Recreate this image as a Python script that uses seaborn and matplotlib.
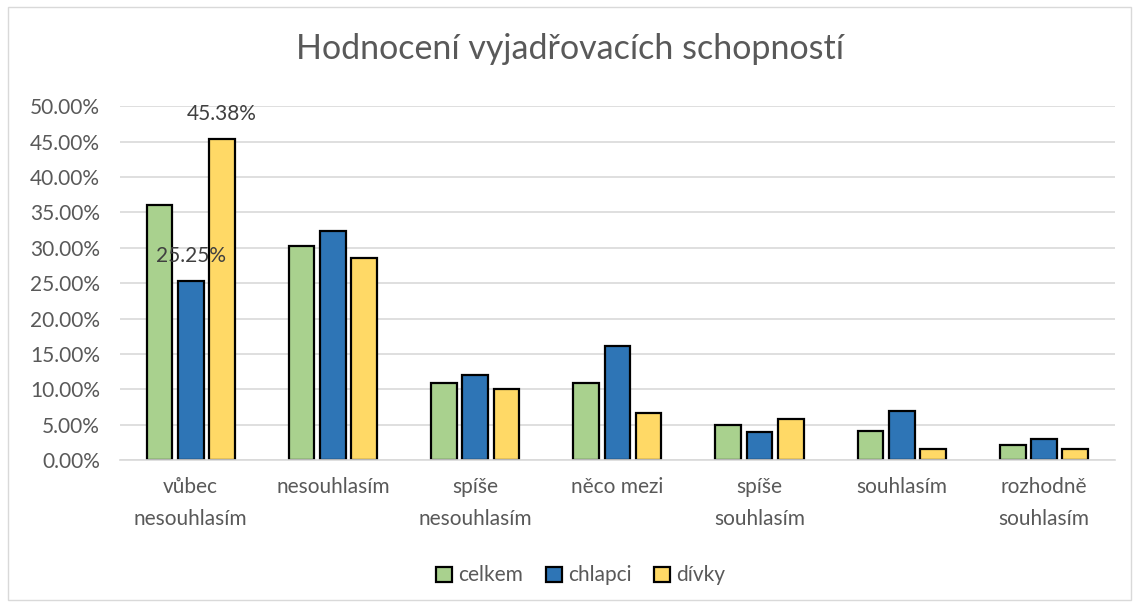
import pandas as pd
import matplotlib
matplotlib.use("Agg")
import matplotlib.pyplot as plt
import matplotlib.patches as mpatches
from matplotlib.ticker import FuncFormatter
import seaborn as sns

# data (percent)
kategorie = ["vůbec\nnesouhlasím", "nesouhlasím", "spíše\nnesouhlasím", "něco mezi",
             "spíše\nsouhlasím", "souhlasím", "rozhodně\nsouhlasím"]
celkem = [36.1, 30.2, 10.9, 10.9, 5.0, 4.1, 2.2]
chlapci = [25.25, 32.3, 12.0, 16.1, 4.0, 7.0, 3.0]
divky = [45.38, 28.5, 10.0, 6.6, 5.8, 1.6, 1.6]
skupiny = ["celkem", "chlapci", "dívky"]
barvy = ["#A9D18E", "#2E75B6", "#FFD966"]

df = pd.DataFrame({"kategorie": kategorie, "celkem": celkem, "chlapci": chlapci, "dívky": divky})
df = df.melt(id_vars="kategorie", var_name="skupina", value_name="hodnota")

sns.set_style("white")
plt.rcParams["font.family"] = ["Lato", "DejaVu Sans"]
sed = "#595959"

fig = plt.figure(figsize=(11.39, 6.07), dpi=100)
ax = fig.add_axes([0.105, 0.242, 0.874, 0.583])

sns.barplot(data=df, x="kategorie", y="hodnota", hue="skupina", hue_order=skupiny,
            palette=barvy, width=0.66, gap=0.18, edgecolor="black", linewidth=1.6,
            saturation=1, ax=ax, legend=True)

ax.set_ylim(0, 50)
ax.set_yticks(range(0, 51, 5))
ax.yaxis.set_major_formatter(FuncFormatter(lambda v, p: f"{v:.2f}%"))
ax.grid(axis="y", color="#D9D9D9", linewidth=1.2)
ax.set_axisbelow(True)
for s in ["top", "right", "left"]:
    ax.spines[s].set_visible(False)
ax.spines["bottom"].set_color("#D9D9D9")
ax.spines["bottom"].set_linewidth(1.2)
ax.tick_params(axis="both", length=0, labelsize=15, colors=sed)
ax.tick_params(axis="y", pad=14)
ax.tick_params(axis="x", pad=12)
for t in ax.get_xticklabels():
    t.set_linespacing(1.75)
ax.set_xlabel("")
ax.set_ylabel("")
ax.set_xlim(-0.5, len(kategorie) - 0.5)

# datove popisky jen u prvni skupiny
ax.bar_label(ax.containers[1], labels=[f"{chlapci[0]:.2f}%"] + [""] * 6,
             padding=11, fontsize=15, color="#404040")
ax.bar_label(ax.containers[2], labels=[f"{divky[0]:.2f}%"] + [""] * 6,
             padding=11, fontsize=15, color="#404040")

fig.suptitle("Hodnocení vyjadřovacích schopností", y=0.945, fontsize=24.5, color=sed)

handles, labels = ax.get_legend_handles_labels()
ax.get_legend().remove()
fig.legend(handles, labels, loc="center", bbox_to_anchor=(0.51, 0.052), ncol=3, frameon=False,
           fontsize=15, handlelength=0.75, handleheight=0.75, handletextpad=0.3,
           columnspacing=1.1, labelcolor=sed)

fig.patches.append(mpatches.Rectangle((0.007, 0.012), 0.986, 0.976, transform=fig.transFigure,
                                      fill=False, edgecolor="#D9D9D9", linewidth=1))

fig.savefig("out.png", dpi=100, facecolor="white")
